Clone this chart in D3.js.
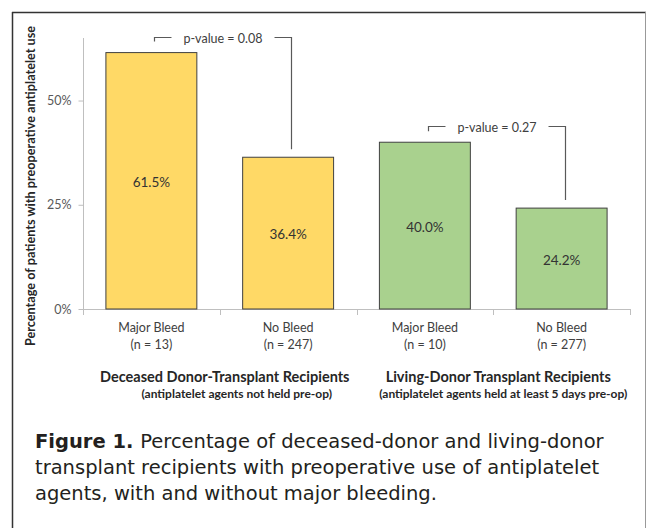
<!DOCTYPE html>
<html lang="en">
<head>
<meta charset="utf-8">
<title>Figure 1</title>
<script src="https://cdn.jsdelivr.net/npm/d3@7"></script>
<style>
  html, body { margin: 0; padding: 0; background: #fff; }
  svg text { font-family: Lato, "Open Sans", sans-serif; }
  .caption { font-family: "DejaVu Sans", "Open Sans", sans-serif; fill: #231f20; }
</style>
</head>
<body>
<svg id="chart" width="647" height="528"></svg>
<script>
// data
var categories = ['Major Bleed', 'No Bleed', 'Major Bleed', 'No Bleed'];
var sampleSizes = ['(n = 13)', '(n = 247)', '(n = 10)', '(n = 277)'];
var percentages = [61.5, 36.4, 40.0, 24.2];
var groupOf = [0, 0, 1, 1];
var groups = ['Deceased Donor-Transplant Recipients', 'Living-Donor Transplant Recipients'];
var groupNotes = ['(antiplatelet agents not held pre-op)', '(antiplatelet agents held at least 5 days pre-op)'];
var pValues = ['p-value = 0.08', 'p-value = 0.27'];
var yTicks = [0, 25, 50];
var groupColors = ['#ffd966', '#a9d18e'];

var svg = d3.select('#chart');

// frame around the figure
svg.append('line').attr('x1', 12).attr('x2', 646).attr('y1', 12.5).attr('y2', 12.5)
  .attr('stroke', '#333').attr('stroke-width', 1.5);
svg.append('line').attr('x1', 12.5).attr('x2', 12.5).attr('y1', 12).attr('y2', 528)
  .attr('stroke', '#333').attr('stroke-width', 1.5);
svg.append('line').attr('x1', 645.5).attr('x2', 645.5).attr('y1', 12).attr('y2', 528)
  .attr('stroke', '#999').attr('stroke-width', 1);

var x = d3.scaleBand()
  .domain(d3.range(categories.length))
  .range([83, 630])
  .paddingInner(0.335)
  .paddingOuter(0.1675);

var y = d3.scaleLinear()
  .domain([0, 65])
  .range([309, 38]);

// y axis
var yAxis = d3.axisLeft(y)
  .tickValues(yTicks)
  .tickSize(5)
  .tickPadding(7)
  .tickFormat(function(d) { return d + '%'; });

var yg = svg.append('g')
  .attr('transform', 'translate(83.5,0)')
  .call(yAxis);
yg.select('.domain').attr('stroke', '#bfbfbf').attr('d', 'M-0,' + y(65) + 'V' + y(0));
yg.selectAll('.tick line').attr('stroke', '#bfbfbf');
yg.selectAll('.tick text')
  .attr('fill', '#595959')
  .style('font-size', '12.5px')
  .style('font-family', 'Lato, sans-serif');

// x axis with ticks on category boundaries
var step = x.step();
var bounds = d3.range(categories.length + 1).map(function(i) { return 83 + i * step; });
svg.append('line')
  .attr('x1', 83).attr('x2', 630)
  .attr('y1', y(0) + 0.5).attr('y2', y(0) + 0.5)
  .attr('stroke', '#bfbfbf');
svg.selectAll('.xtick')
  .data(bounds)
  .enter().append('line')
  .attr('class', 'xtick')
  .attr('x1', function(d) { return Math.round(d) + 0.5; })
  .attr('x2', function(d) { return Math.round(d) + 0.5; })
  .attr('y1', y(0)).attr('y2', y(0) + 6)
  .attr('stroke', '#bfbfbf');

// bars
svg.selectAll('rect.bar')
  .data(percentages)
  .enter().append('rect')
  .attr('class', 'bar')
  .attr('x', function(d, i) { return x(i); })
  .attr('y', function(d) { return y(d); })
  .attr('width', x.bandwidth())
  .attr('height', function(d) { return y(0) - y(d); })
  .attr('fill', function(d, i) { return groupColors[groupOf[i]]; })
  .attr('stroke', '#404040')
  .attr('stroke-width', 1);

// value labels
svg.selectAll('text.val')
  .data(percentages)
  .enter().append('text')
  .attr('class', 'val')
  .attr('x', function(d, i) { return x(i) + x.bandwidth() / 2; })
  .attr('y', function(d) { return (y(d) + y(0)) / 2 + 6; })
  .attr('text-anchor', 'middle')
  .attr('fill', '#333')
  .style('font-size', '13.5px')
  .text(function(d) { return d.toFixed(1) + '%'; });

// category labels
svg.selectAll('text.cat')
  .data(categories)
  .enter().append('text')
  .attr('class', 'cat')
  .attr('x', function(d, i) { return x(i) + x.bandwidth() / 2; })
  .attr('y', 332)
  .attr('text-anchor', 'middle')
  .attr('fill', '#404040')
  .style('font-size', '12.5px')
  .text(function(d) { return d; });
svg.selectAll('text.n')
  .data(sampleSizes)
  .enter().append('text')
  .attr('class', 'n')
  .attr('x', function(d, i) { return x(i) + x.bandwidth() / 2; })
  .attr('y', 349)
  .attr('text-anchor', 'middle')
  .attr('fill', '#404040')
  .style('font-size', '12.5px')
  .text(function(d) { return d; });

// group titles
function groupCenter(g) { return (bounds[2 * g] + bounds[2 * g + 2]) / 2; }
svg.selectAll('text.grp')
  .data(groups)
  .enter().append('text')
  .attr('class', 'grp')
  .attr('x', function(d, g) { return groupCenter(g) + 5; })
  .attr('y', 382)
  .attr('text-anchor', 'middle')
  .attr('fill', '#262626')
  .style('font-size', '14.5px')
  .style('font-weight', 'bold')
  .text(function(d) { return d; });
svg.selectAll('text.note')
  .data(groupNotes)
  .enter().append('text')
  .attr('class', 'note')
  .attr('x', function(d, g) { return groupCenter(g) + (g === 0 ? 17 : 10); })
  .attr('y', 398)
  .attr('text-anchor', 'middle')
  .attr('fill', '#262626')
  .style('font-size', '12px')
  .style('font-weight', 'bold')
  .text(function(d) { return d; });

// y axis title
svg.append('text')
  .attr('transform', 'translate(35,186) rotate(-90)')
  .attr('text-anchor', 'middle')
  .attr('fill', '#262626')
  .style('font-size', '12.7px')
  .style('font-weight', 'bold')
  .text('Percentage of patients with preoperative antiplatelet use');

// p-value brackets
pValues.forEach(function(label, g) {
  var a = 2 * g, b = 2 * g + 1;
  var xl = Math.round(x(a) + x.bandwidth() / 2 + 3) + 0.5;
  var xr = Math.round(x(b) + x.bandwidth() / 2 + 3) + 0.5;
  var top = Math.round(y(Math.max(percentages[a], percentages[b])) - 16) + 0.5;
  var t = svg.append('text')
    .attr('x', (xl + xr) / 2)
    .attr('y', top + 5)
    .attr('text-anchor', 'middle')
    .attr('fill', '#404040')
    .style('font-size', '12.5px')
    .text(label);
  var w = t.node().getComputedTextLength();
  var tl = (xl + xr) / 2 - w / 2 - 12, tr = (xl + xr) / 2 + w / 2 + 12;
  svg.append('path')
    .attr('d', 'M' + xl + ',' + (y(percentages[a]) - 11) + 'V' + top + 'H' + tl)
    .attr('fill', 'none').attr('stroke', '#595959').attr('stroke-width', 1.2);
  svg.append('path')
    .attr('d', 'M' + tr + ',' + top + 'H' + xr + 'V' + (y(percentages[b]) - 8))
    .attr('fill', 'none').attr('stroke', '#595959').attr('stroke-width', 1.2);
});

// caption
var captionLines = [
  'Percentage of deceased-donor and living-donor',
  'transplant recipients with preoperative use of antiplatelet',
  'agents, with and without major bleeding.'
];
var cap = svg.append('text')
  .attr('class', 'caption')
  .attr('x', 35)
  .attr('y', 448)
  .style('font-size', '19.5px');
cap.append('tspan').style('font-weight', 'bold').text('Figure 1. ');
cap.append('tspan').text(captionLines[0]);
svg.selectAll('text.capline')
  .data(captionLines.slice(1))
  .enter().append('text')
  .attr('class', 'caption capline')
  .attr('x', 35)
  .attr('y', function(d, i) { return 474 + i * 25.5; })
  .style('font-size', '19.5px')
  .text(function(d) { return d; });
</script>
</body>
</html>
